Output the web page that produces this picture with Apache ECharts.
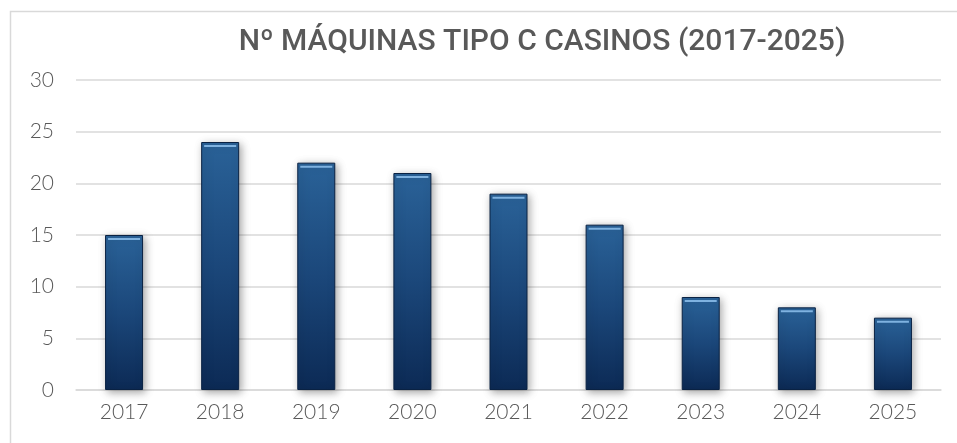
<!DOCTYPE html>
<html>
<head>
<meta charset="utf-8">
<script src="https://cdn.jsdelivr.net/npm/echarts@6/dist/echarts.min.js"></script>
<style>
html, body { margin: 0; padding: 0; background: #fff; }
#chart { width: 957px; height: 443px; }
</style>
</head>
<body>
<div id="chart"></div>
<script>
var years = ["2017", "2018", "2019", "2020", "2021", "2022", "2023", "2024", "2025"];
var maquinas = [15, 24, 22, 21, 19, 16, 9, 8, 7];
var yTicks = [0, 5, 10, 15, 20, 25, 30];

var cc = echarts.init(document.getElementById("chart"));

var op = {
	backgroundColor: "#fff",
	animation: false,
	title: {
		text: "Nº MÁQUINAS TIPO C CASINOS (2017-2025)",
		left: 537,
		top: 22,
		textAlign: "center",
		textStyle: {
			fontFamily: "Roboto",
			fontWeight: 500,
			fontSize: 30,
			color: "#595959"
		}
	},
	graphic: [{
		type: "rect",
		shape: { x: 10.5, y: 11.5, width: 960, height: 440 },
		style: { fill: "none", stroke: "#d9d9d9", lineWidth: 1.5 },
		z: -1
	}],
	grid: { left: 76, right: 16, top: 80, bottom: 53 },
	xAxis: {
		type: "category",
		data: years,
		axisTick: { show: false },
		axisLine: { lineStyle: { color: "#d9d9d9", width: 1.5 } },
		axisLabel: { color: "#595959", fontSize: 21, fontFamily: "Lato", fontWeight: 300, margin: 12 }
	},
	yAxis: {
		type: "value",
		min: yTicks[0],
		max: yTicks[yTicks.length - 1],
		interval: 5,
		axisLine: { show: false },
		axisTick: { show: false },
		splitLine: { lineStyle: { color: "#d9d9d9", width: 1.5 } },
		axisLabel: { color: "#595959", fontSize: 21, fontFamily: "Lato", fontWeight: 300, margin: 22 }
	},
	series: [{
		name: "Máquinas",
		type: "bar",
		data: maquinas,
		barWidth: 38,
		itemStyle: {
			color: new echarts.graphic.LinearGradient(0, 0, 0, 1, [
				{ offset: 0, color: "#2a6298" },
				{ offset: 0.5, color: "#1b477a" },
				{ offset: 1, color: "#0c2a55" }
			]),
			borderColor: "#0a2243",
			borderWidth: 1,
			shadowColor: "rgba(0,0,0,0.35)",
			shadowBlur: 8,
			shadowOffsetX: 2,
			shadowOffsetY: 2
		}
	}, {
		// brillo en la parte superior de cada barra
		type: "pictorialBar",
		data: maquinas,
		symbol: "rect",
		symbolSize: [32, 2],
		symbolPosition: "end",
		symbolOffset: [0, 3],
		itemStyle: { color: "#7fb2e0" },
		z: 3,
		silent: true
	}]
};

cc.setOption(op);
</script>
</body>
</html>
